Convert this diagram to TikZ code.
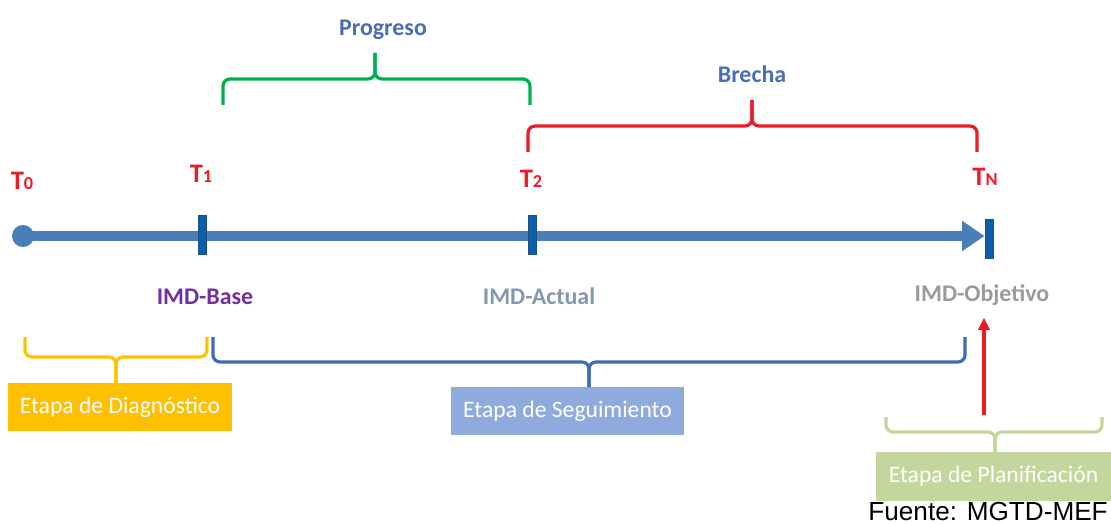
\documentclass[tikz,border=0pt]{standalone}
\usepackage{fontspec}
\setmainfont{Carlito}
\newfontfamily\arialfont{Liberation Sans}
\usetikzlibrary{arrows.meta,backgrounds}

\definecolor{axisblue}{HTML}{4A7EBB}
\definecolor{tickblue}{HTML}{0B5FB0}
\definecolor{tickedge}{HTML}{1F4E79}
\definecolor{textblue}{HTML}{4A6EB5}
\definecolor{tred}{HTML}{ED1C24}
\definecolor{progreen}{HTML}{00B050}
\definecolor{diagyellow}{HTML}{FFC000}
\definecolor{segblue}{HTML}{3F6DB5}
\definecolor{segbox}{HTML}{8FAADC}
\definecolor{planbox}{HTML}{C3D69B}
\definecolor{basepurple}{HTML}{7030A0}
\definecolor{actualgray}{HTML}{8497B0}
\definecolor{objgray}{HTML}{9A9A9A}

\tikzstyle{axisline} = [line width=7.8pt,axisblue,-{Triangle[length=16pt,width=20.5pt]}]
\tikzstyle{tick} = [draw=tickedge,fill=tickblue,line width=0.6pt,minimum width=0.2cm,minimum height=0.975cm,inner sep=0]
\tikzstyle{tlabel} = [tred,font=\fontsize{19}{19}\selectfont\bfseries,inner sep=0]
\tikzstyle{imd} = [font=\fontsize{17}{17}\selectfont\bfseries,inner sep=0,anchor=base]
\tikzstyle{title} = [textblue,font=\fontsize{17}{17}\selectfont\bfseries,inner sep=0,anchor=base]
\tikzstyle{brace} = [line width=2.3pt,rounded corners=5pt]
\tikzstyle{stage} = [white,font=\fontsize{16.8}{16.8}\selectfont,inner sep=0,minimum height=1.2cm]
\tikzstyle{arrow} = [line width=2.2pt,tred,-{Triangle[length=9pt,width=8pt]}]

\newcommand{\tsub}[1]{{\fontsize{13}{13}\selectfont #1}}

\begin{document}
\begin{tikzpicture}[x=0.025cm,y=-0.025cm]
\useasboundingbox (0,0) rectangle (1111,524);

% time axis
\node[circle,fill=axisblue,minimum size=0.55cm,inner sep=0] (t0dot) at (23,236) {};
\node[tick] (tick1) at (202.5,234.5) {};
\node[tick] (tick2) at (532.5,235) {};
\node[tick] (tickN) at (989,238.5) {};
\begin{scope}[on background layer]
\draw[axisline] (t0dot.center) -- (t0dot.center -| tickN.west);
\end{scope}

% moments
\node[tlabel] (lbl0) at (22,181) {T\tsub{0}};
\node[tlabel] (lbl1) at (201,174) {T\tsub{1}};
\node[tlabel] (lbl2) at (531,179) {T\tsub{2}};
\node[tlabel] (lblN) at (985,177) {T\tsub{N}};

\node[imd,basepurple] (base) at (205,305) {IMD-Base};
\node[imd,actualgray] (actual) at (539,305) {IMD-Actual};
\node[imd,objgray] (objetivo) at (982,302) {IMD-Objetivo};

% upper braces
\draw[brace,progreen] (223,105) -- (223,79) -- (375,79) -- (375,53);
\draw[brace,progreen] (530,105) -- (530,79) -- (375,79) -- (375,53);
\node[title] (progreso) at (383,36) {Progreso};

\draw[brace,tred] (528,152) -- (528,126) -- (752,126) -- (752,100);
\draw[brace,tred] (977,152) -- (977,126) -- (752,126) -- (752,100);
\node[title] (brecha) at (752,83) {Brecha};

% stages
\node[stage,fill=diagyellow,minimum width=5.6cm] (diag) at (120,407) {Etapa de Diagnóstico};
\draw[brace,diagyellow] (25,337) -- (25,357) -- (116,357) -- (116,383);
\draw[brace,diagyellow] (207,337) -- (207,357) -- (116,357) -- (116,383);

\node[stage,fill=segbox,minimum width=5.825cm] (seg) at (567.5,411) {Etapa de Seguimiento};
\draw[brace,segblue] (213,337) -- (213,362) -- (589,362) -- (589,387);
\draw[brace,segblue] (965,337) -- (965,362) -- (589,362) -- (589,387);

\node[stage,fill=planbox,minimum width=5.875cm,minimum height=1.225cm] (plan) at (993.5,476.5) {Etapa de Planificación};
\draw[brace,planbox] (886,417) -- (886,432) -- (995,432) -- (995,452);
\draw[brace,planbox] (1102,417) -- (1102,432) -- (995,432) -- (995,452);

\coordinate (planup) at (984,415);
\draw[arrow,shorten >=8pt] (planup) -- (planup |- objetivo.south);

\node[inner sep=0,anchor=base east,font=\arialfont\fontsize{18.6}{18.6}\selectfont] (fuente) at (1108,520) {Fuente: MGTD-MEF};
\end{tikzpicture}
\end{document}
